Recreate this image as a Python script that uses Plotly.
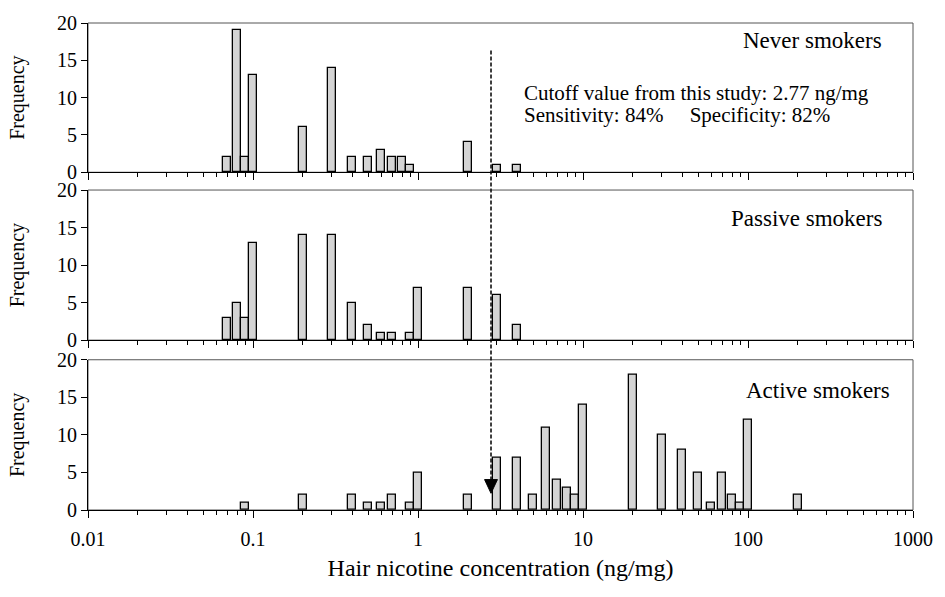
import numpy as np
import plotly.graph_objects as go

# ---- data ----
never_x = [0.07, 0.08, 0.09, 0.1, 0.2, 0.3, 0.4, 0.5, 0.6, 0.7, 0.8, 0.9, 2, 3, 4]
never_y = [2, 19, 2, 13, 6, 14, 2, 2, 3, 2, 2, 1, 4, 1, 1]
passive_x = [0.07, 0.08, 0.09, 0.1, 0.2, 0.3, 0.4, 0.5, 0.6, 0.7, 0.9, 1, 2, 3, 4]
passive_y = [3, 5, 3, 13, 14, 14, 5, 2, 1, 1, 1, 7, 7, 6, 2]
active_x = [0.09, 0.2, 0.4, 0.5, 0.6, 0.7, 0.9, 1, 2, 3, 4, 5, 6, 7, 8, 9, 10,
            20, 30, 40, 50, 60, 70, 80, 90, 100, 200]
active_y = [1, 2, 2, 1, 1, 2, 1, 5, 2, 7, 7, 2, 11, 4, 3, 2, 14,
            18, 10, 8, 5, 1, 5, 2, 1, 12, 2]
panel_names = ["Never smokers", "Passive smokers", "Active smokers"]
cutoff = 2.77
x_tick_labels = ["0.01", "0.1", "1", "10", "100", "1000"]
x_tick_values = [0.01, 0.1, 1, 10, 100, 1000]
y_tick_values = [0, 5, 10, 15, 20]

FONT = "Liberation Serif"
BAR_W = 0.048  # in decades

series = [(never_x, never_y), (passive_x, passive_y), (active_x, active_y)]
domains = [[0.6935, 1.0], [0.3488, 0.657], [0.0, 0.3085]]

minor_vals = [np.log10(m * d) for d in x_tick_values[:-1] for m in range(2, 10)]
major_vals = [np.log10(v) for v in x_tick_values]

fig = go.Figure()
for i, (xs, ys) in enumerate(series):
    n = "" if i == 0 else str(i + 1)
    fig.add_trace(go.Bar(
        x=np.log10(xs), y=ys, width=BAR_W,
        marker=dict(color="#d4d4d4", line=dict(color="black", width=1.3)),
        xaxis="x" + n, yaxis="y" + n, showlegend=False,
    ))
    fig.layout["xaxis" + n] = dict(
        domain=[0, 1], anchor="y" + n, range=[-2, 3],
        tickmode="array", tickvals=major_vals,
        ticktext=x_tick_labels if i == 2 else [""] * len(major_vals),
        showticklabels=(i == 2), ticklabelstandoff=4,
        ticks="outside", ticklen=7, tickwidth=1, tickcolor="black",
        minor=dict(tickmode="array", tickvals=minor_vals, ticks="outside",
                   ticklen=4, tickwidth=1, tickcolor="black"),
        showline=True, linecolor="black", linewidth=1,
        showgrid=False, zeroline=False,
        tickfont=dict(family=FONT, size=20, color="black"),
        title=dict(text="Hair nicotine concentration (ng/mg)" if i == 2 else "",
                   font=dict(family=FONT, size=24, color="black"), standoff=10),
    )
    fig.layout["yaxis" + n] = dict(
        domain=domains[i], anchor="x" + n, range=[0, 20],
        tickmode="array", tickvals=y_tick_values,
        ticks="outside", ticklen=6, tickwidth=1, tickcolor="black",
        showline=True, linecolor="black", linewidth=1,
        showgrid=False, zeroline=False,
        tickfont=dict(family=FONT, size=20, color="black"),
        title=dict(text="Frequency", font=dict(family=FONT, size=20, color="black"),
                   standoff=26),
    )
    # panel frame (top/right in grey)
    fig.add_shape(type="rect", xref="x" + n + " domain", yref="y" + n + " domain",
                  x0=0, x1=1, y0=0, y1=1, line=dict(color="#555555", width=1),
                  layer="below")

# panel labels
label_pos = [(0.965, 0.9637), (0.965, 0.5988), (0.975, 0.246)]
for name, (px, py) in zip(panel_names, label_pos):
    fig.add_annotation(text=name, xref="paper", yref="paper", x=px, y=py,
                       xanchor="right", yanchor="middle", showarrow=False,
                       font=dict(family=FONT, size=23, color="black"))

fig.add_annotation(text=f"Cutoff value from this study: {cutoff} ng/mg",
                   xref="paper", yref="paper", x=0.5264, y=0.857,
                   xanchor="left", yanchor="middle", showarrow=False,
                   font=dict(family=FONT, size=21, color="black"))
fig.add_annotation(text="Sensitivity: 84%&nbsp;&nbsp;&nbsp;&nbsp;&nbsp;Specificity: 82%",
                   xref="paper", yref="paper", x=0.5264, y=0.8105,
                   xanchor="left", yanchor="middle", showarrow=False,
                   font=dict(family=FONT, size=21, color="black"))

# dashed cutoff arrow
cx = np.log10(cutoff)
fig.add_shape(type="line", xref="x3", yref="paper", x0=cx, x1=cx, y0=0.9435, y1=0.06,
              line=dict(color="black", width=1.5, dash="4px,2px"))
hw = 0.039
fig.add_shape(type="path", xref="x3", yref="paper",
              path=f"M {cx - hw},0.0625 L {cx + hw},0.0625 L {cx},0.0343 Z",
              fillcolor="black", line=dict(color="black", width=1))

fig.update_layout(
    width=945, height=597,
    margin=dict(l=88, r=23, t=14, b=87),
    paper_bgcolor="white", plot_bgcolor="white",
    bargap=0, font=dict(family=FONT, color="black"),
)

fig.write_html("out.html", config={"displayModeBar": False},
               post_script="document.body.style.margin='0px';document.body.style.overflow='hidden';")
